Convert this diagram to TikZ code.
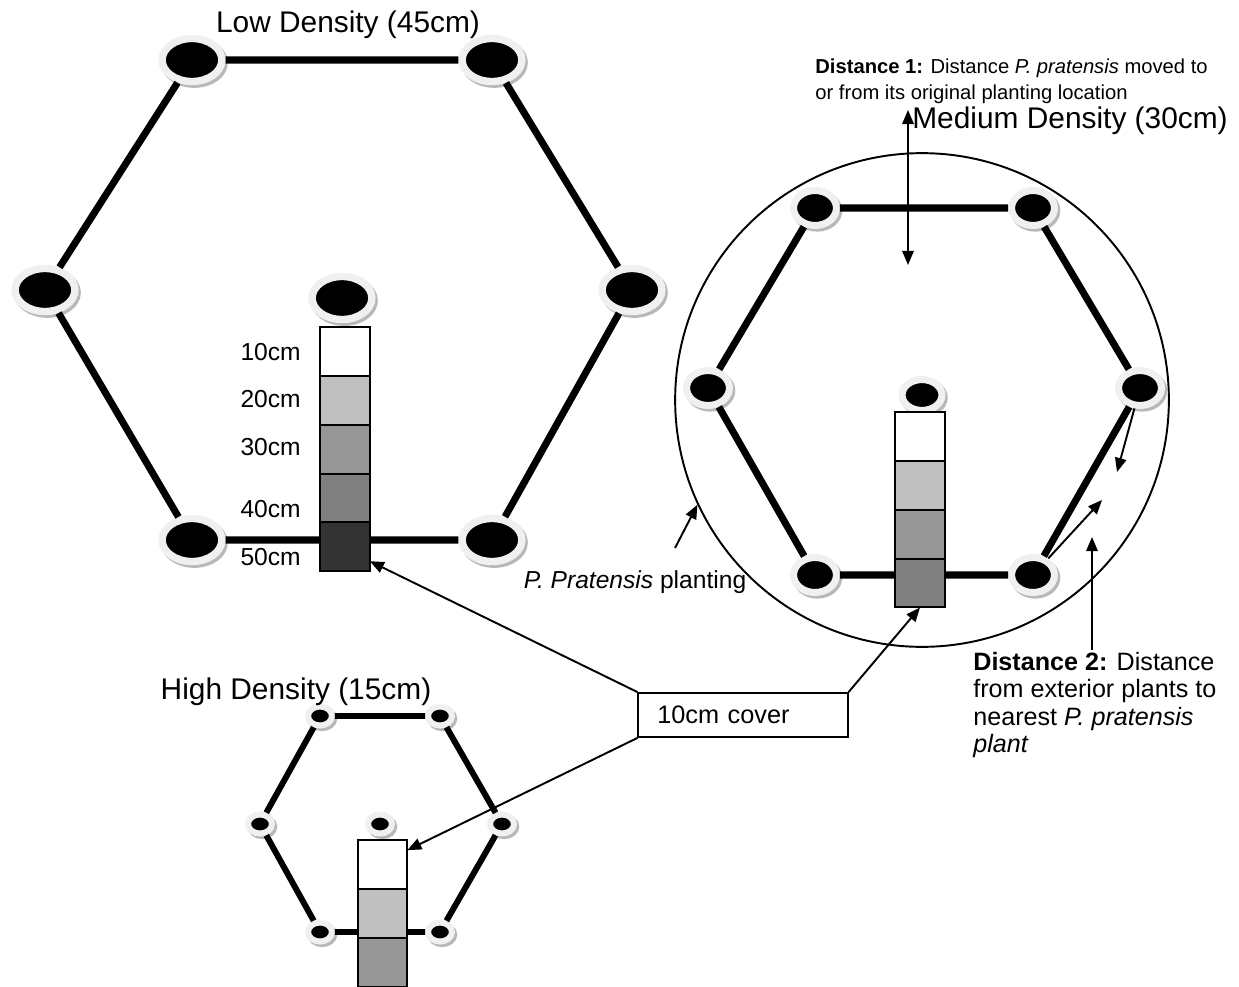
\documentclass[tikz,border=0pt]{standalone}
\usepackage{fontspec}
\setmainfont{Liberation Sans}
\usetikzlibrary{arrows.meta,positioning,shapes.geometric,shadows}
\definecolor{cover1}{HTML}{FFFFFF}
\definecolor{cover2}{HTML}{C0C0C0}
\definecolor{cover3}{HTML}{969696}
\definecolor{cover4}{HTML}{808080}
\definecolor{cover5}{HTML}{333333}

\begin{document}
\begin{tikzpicture}[x=0.02cm, y=-0.02cm,
  plant/.style={ellipse, fill=black, draw=white!94!black, inner sep=0pt,
                drop shadow={shadow xshift=1.3pt, shadow yshift=-1.5pt,
                             opacity=1, fill=black!28, draw=black!28}},
  bigplant/.style={plant, minimum width=34pt, minimum height=24.5pt, line width=4.2pt},
  midplant/.style={plant, minimum width=24.4pt, minimum height=19.9pt, line width=4pt},
  smallplant/.style={plant, minimum width=13.6pt, minimum height=10.8pt, line width=3.4pt},
  link/.style={line width=4pt},
  cell/.style={draw, line width=1.1pt, minimum width=28.3pt, minimum height=27.8pt,
               inner sep=0pt, outer sep=0pt},
  lbl/.style={font=\fontsize{14}{15.5}\selectfont, inner sep=0pt},
  note/.style={font=\fontsize{11.5}{14.6}\selectfont, inner sep=0pt},
  title/.style={font=\fontsize{17}{20}\selectfont, inner sep=0pt},
  pointer/.style={line width=1.1pt, -{Triangle[length=8pt,width=6.5pt]}}
]
\clip (0,0) rectangle (1239,986);

% planting circle
\node[draw, circle, line width=1.1pt, minimum size=281pt, inner sep=0pt]
  (planting) at (922,400) {};

% low density (45cm)
\node[bigplant] (lT1) at (192,60) {};
\node[bigplant] (lT2) at (492,60) {};
\node[bigplant] (lR)  at (632,290) {};
\node[bigplant] (lB2) at (492,540) {};
\node[bigplant] (lB1) at (192,540) {};
\node[bigplant] (lL)  at (45,290) {};
\node[bigplant] (lC)  at (342,298) {};
\draw[link] (lT1) -- (lT2) -- (lR) -- (lB2) -- (lB1) -- (lL) -- (lT1);

% medium density (30cm)
\node[midplant] (mT1) at (815,208) {};
\node[midplant] (mT2) at (1033,208) {};
\node[midplant] (mR)  at (1140,388) {};
\node[midplant] (mB2) at (1033,575) {};
\node[midplant] (mB1) at (815,575) {};
\node[midplant] (mL)  at (708,388) {};
\node[plant, minimum width=22.7pt, minimum height=17.6pt, line width=4pt]
  (mC) at (922,395) {};
\draw[link] (mT1) -- (mT2) -- (mR) -- (mB2) -- (mB1) -- (mL) -- (mT1);

% high density (15cm)
\node[smallplant] (hT1) at (320,716) {};
\node[smallplant] (hT2) at (440,716) {};
\node[smallplant] (hR)  at (502,824) {};
\node[smallplant] (hB2) at (440,932) {};
\node[smallplant] (hB1) at (320,932) {};
\node[smallplant] (hL)  at (260,824) {};
\node[smallplant] (hC)  at (380,824) {};
\draw[link, line width=3.4pt] (hT1) -- (hT2) -- (hR) -- (hB2) -- (hB1) -- (hL) -- (hT1);

% cover columns
\node[cell, fill=cover1] (l1) at (345,351.5) {};
\node[cell, fill=cover2, below=0pt of l1] (l2) {};
\node[cell, fill=cover3, below=0pt of l2] (l3) {};
\node[cell, fill=cover4, below=0pt of l3] (l4) {};
\node[cell, fill=cover5, below=0pt of l4] (l5) {};

\node[cell, fill=cover1] (m1) at (920,436.5) {};
\node[cell, fill=cover2, below=0pt of m1] (m2) {};
\node[cell, fill=cover3, below=0pt of m2] (m3) {};
\node[cell, fill=cover4, below=0pt of m3] (m4) {};

\node[cell, fill=cover1] (h1) at (382.5,864.5) {};
\node[cell, fill=cover2, below=0pt of h1] (h2) {};
\node[cell, fill=cover3, below=0pt of h2] (h3) {};

% depth labels
\node[lbl, anchor=east] (d10) at (301,352) {10cm};
\node[lbl, anchor=east] (d20) at (301,399) {20cm};
\node[lbl, anchor=east] (d30) at (301,447) {30cm};
\node[lbl, anchor=east] (d40) at (301,509) {40cm};
\node[lbl, anchor=east] (d50) at (301,557) {50cm};

% titles
\node[title] (lowT) at (348,25) {Low Density (45cm)};
\node[title, anchor=west] (medT) at (912,121) {Medium Density (30cm)};
\node[title] (highT) at (296,692) {High Density (15cm)};

% notes
\node[note, anchor=north west, align=left] (dist1) at (815,59)
  {\textbf{Distance 1:} Distance \textit{P. pratensis} moved to\\
   or from its original planting location};
\node[lbl, font=\fontsize{14.3}{15.5}\selectfont, anchor=north west, align=left]
  (dist2) at (973,652)
  {\textbf{Distance 2:} Distance\\from exterior plants to\\
   nearest \textit{P. pratensis}\\\textit{plant}};
\node[lbl] (plantLbl) at (635,582) {\textit{P. Pratensis} planting};
\node[lbl, font=\fontsize{14.4}{15.5}\selectfont, draw, line width=1.1pt,
      text width=97.5pt, inner xsep=10.8pt, minimum height=25pt, align=left]
  (cover) at (743,715) {10cm cover};

% arrows
\coordinate (d1top) at (908,110);
\coordinate (d1bot) at (908,265);
\draw[line width=1.1pt, {Triangle[length=8pt,width=6.5pt]}-{Triangle[length=8pt,width=6.5pt]}]
  (d1top) -- (d1bot);

\coordinate (d2a) at (1117,472);
\coordinate (d2b) at (1102,500);
\coordinate (d2c) at (1092,537);
\coordinate (d2tail) at (1092,650);
\draw[pointer] (mR) -- (d2a);
\draw[pointer] (mB2) -- (d2b);
\draw[pointer] (d2tail) -- (d2c);

\coordinate (plantTail) at (675,548);
\draw[pointer] (plantTail) -- (planting.205);

\draw[pointer] (cover.north west) -- (l5.-30);
\draw[pointer] (cover.north east) -- (m4.south);
\draw[pointer] (cover.south west) -- (h1.30);
\end{tikzpicture}
\end{document}
